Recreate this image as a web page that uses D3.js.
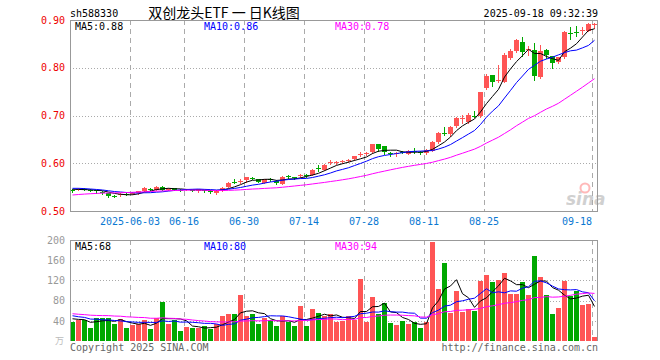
<!DOCTYPE html>
<html lang="zh">
<head>
<meta charset="utf-8">
<title>sh588330 日K线图</title>
<script src="https://d3js.org/d3.v7.min.js"></script>
<style>
body { margin: 0; background: #fff; }
svg text { font-family: "DejaVu Sans Mono", monospace; font-size: 10px; }
.grid-v { stroke: #aaa; stroke-dasharray: 5,4; shape-rendering: crispEdges; }
.grid-h { stroke: #aaa; stroke-dasharray: 1,2; shape-rendering: crispEdges; }
.frame { stroke: #999; fill: none; shape-rendering: crispEdges; }
.ma { fill: none; stroke-width: 1px; }
</style>
</head>
<body>
<svg width="660" height="360"></svg>
<script>
// trading days shown on the chart
var dates = [
  "2025-05-19","2025-05-20","2025-05-21","2025-05-22","2025-05-23","2025-05-26","2025-05-27","2025-05-28","2025-05-29","2025-05-30",
  "2025-06-03","2025-06-04","2025-06-05","2025-06-06","2025-06-09","2025-06-10","2025-06-11","2025-06-12","2025-06-13","2025-06-16",
  "2025-06-17","2025-06-18","2025-06-19","2025-06-20","2025-06-23","2025-06-24","2025-06-25","2025-06-26","2025-06-27","2025-06-30",
  "2025-07-01","2025-07-02","2025-07-03","2025-07-04","2025-07-07","2025-07-08","2025-07-09","2025-07-10","2025-07-11","2025-07-14",
  "2025-07-15","2025-07-16","2025-07-17","2025-07-18","2025-07-21","2025-07-22","2025-07-23","2025-07-24","2025-07-25","2025-07-28",
  "2025-07-29","2025-07-30","2025-07-31","2025-08-01","2025-08-04","2025-08-05","2025-08-06","2025-08-07","2025-08-08","2025-08-11",
  "2025-08-12","2025-08-13","2025-08-14","2025-08-15","2025-08-18","2025-08-19","2025-08-20","2025-08-21","2025-08-22","2025-08-25",
  "2025-08-26","2025-08-27","2025-08-28","2025-08-29","2025-09-01","2025-09-02","2025-09-03","2025-09-04","2025-09-05","2025-09-08",
  "2025-09-09","2025-09-10","2025-09-11","2025-09-12","2025-09-15","2025-09-16","2025-09-17","2025-09-18"
];

var open = [
  0.5435,0.5455,0.5465,0.545,0.543,0.540,0.537,0.5318,0.534,0.5352,
  0.5365,0.537,0.5426,0.5462,0.5454,0.551,0.546,0.5475,0.5445,0.5448,
  0.5432,0.5412,0.5432,0.5412,0.537,0.5426,0.551,0.5614,0.5628,0.5635,
  0.5684,0.5677,0.5593,0.567,0.5635,0.5565,0.573,0.5705,0.5735,0.5745,
  0.5761,0.5907,0.5866,0.6012,0.6012,0.6035,0.6055,0.6082,0.618,0.620,
  0.6236,0.6403,0.6361,0.6222,0.6205,0.6236,0.6201,0.625,0.6236,0.6215,
  0.6264,0.6445,0.664,0.6599,0.6773,0.694,0.6864,0.699,0.6983,0.7562,
  0.7841,0.773,0.7716,0.8204,0.8358,0.8539,0.8372,0.8379,0.7806,0.8379,
  0.8239,0.8121,0.8218,0.8727,0.8741,0.8786,0.8777,0.891
];
var high = [
  0.546,0.5485,0.548,0.546,0.544,0.541,0.538,0.533,0.537,0.537,
  0.539,0.5418,0.550,0.548,0.553,0.552,0.549,0.549,0.546,0.547,
  0.545,0.546,0.545,0.543,0.544,0.5495,0.560,0.5677,0.567,0.5715,
  0.571,0.568,0.568,0.569,0.564,0.5725,0.575,0.572,0.577,0.5765,
  0.588,0.597,0.598,0.6068,0.604,0.606,0.609,0.616,0.623,0.623,
  0.641,0.641,0.637,0.624,0.623,0.626,0.627,0.6313,0.626,0.630,
  0.646,0.665,0.6766,0.677,0.696,0.7017,0.705,0.7087,0.750,0.7869,
  0.785,0.8065,0.830,0.840,0.860,0.865,0.8449,0.8518,0.8483,0.839,
  0.825,0.823,0.8777,0.8846,0.8874,0.8846,0.893,0.893
];
var low = [
  0.540,0.543,0.543,0.541,0.538,0.536,0.530,0.5285,0.532,0.533,
  0.535,0.536,0.542,0.543,0.544,0.543,0.544,0.543,0.542,0.543,
  0.541,0.540,0.540,0.538,0.536,0.541,0.550,0.558,0.559,0.560,
  0.566,0.561,0.558,0.563,0.557,0.556,0.570,0.568,0.572,0.572,
  0.575,0.5845,0.5855,0.599,0.599,0.601,0.603,0.607,0.615,0.617,
  0.6225,0.6264,0.6194,0.6152,0.6152,0.621,0.619,0.621,0.620,0.620,
  0.625,0.643,0.6585,0.658,0.676,0.6843,0.685,0.696,0.697,0.755,
  0.7611,0.7702,0.770,0.818,0.834,0.8255,0.826,0.7743,0.7785,0.8204,
  0.7995,0.810,0.820,0.8609,0.8658,0.8707,0.877,0.8832
];
var close = [
  0.5428,0.5462,0.5448,0.5435,0.540,0.538,0.5315,0.531,0.535,0.5345,
  0.538,0.5412,0.549,0.5454,0.551,0.5454,0.547,0.544,0.544,0.5455,
  0.5426,0.5454,0.5426,0.5405,0.5433,0.549,0.5593,0.5607,0.5635,0.5705,
  0.5677,0.5621,0.5677,0.5645,0.5585,0.5719,0.572,0.5698,0.5745,0.5738,
  0.5866,0.590,0.597,0.6019,0.6019,0.6042,0.6063,0.6152,0.619,0.621,
  0.6403,0.6305,0.6236,0.6215,0.6212,0.6229,0.6257,0.6243,0.6229,0.628,
  0.6445,0.6634,0.6634,0.6752,0.6948,0.6948,0.7003,0.6983,0.7492,0.782,
  0.7702,0.7737,0.8274,0.8344,0.8588,0.8323,0.840,0.7841,0.8344,0.8274,
  0.8093,0.8218,0.8749,0.872,0.8734,0.8793,0.8916,0.8916
];
var volume = [
  37,42,41,25,46,46,45,33,43,25,
  31,34,42,23,46,77,33,42,20,28,
  25,26,29,24,33,49,53,53,91,49,
  53,33,45,41,29,49,37,29,69,29,
  63,55,49,53,38,40,50,42,122,38,
  87,53,75,35,31,39,33,37,25,37,
  196,103,154,55,99,57,63,59,119,130,
  117,121,134,93,93,117,91,168,126,91,
  53,65,119,89,99,72,74,8
];

// sessions before 05-19 (off screen), only used so the moving averages start where the picture shows them
var priorClose = [
  0.515,0.518,0.520,0.522,0.519,0.521,0.524,0.526,0.523,0.525,
  0.527,0.529,0.528,0.530,0.532,0.531,0.533,0.535,0.534,0.538,
  0.546,0.551,0.552,0.549,0.549,0.548,0.547,0.545,0.5448
];
var priorVolume = [
  72,65,58,61,54,49,57,52,60,48,
  55,50,63,47,53,58,51,56,44,67,
  62,54,58,49,57,48,44,51,40
];

var priceTicks = [0.5, 0.6, 0.7, 0.8, 0.9];
var volumeTicks = [40, 80, 120, 160, 200];
var gridDates = ["2025-06-03","2025-06-16","2025-06-30","2025-07-14","2025-07-28","2025-08-11","2025-08-25","2025-09-18"];
var gridLabels = ["2025-06-03","06-16","06-30","07-14","07-28","08-11","08-25","09-18"];
var maPeriods = [5, 10, 30];
var maColors = ["#000", "#00f", "#f0f"];

var RED = "#ff5555", GREEN = "#00a800";

var svg = d3.select("svg");
var left = 70, right = 598;
var pTop = 20, pBottom = 211, vTop = 240, vBottom = 341;

var x = d3.scaleBand().domain(dates).range([left, right]);
var yP = d3.scaleLinear().domain([0.5, 0.9]).range([pBottom, pTop]);
var yV = d3.scaleLinear().domain([0, 200]).range([vBottom, vTop]);
var bw = x.bandwidth() - 1;
function cx(i) { return x(dates[i]) + bw / 2; }
function col(i) { return close[i] >= open[i] ? RED : GREEN; }

function movingAvg(prior, vals, n) {
  var all = prior.concat(vals), off = prior.length;
  return vals.map(function(v, i) {
    return d3.mean(all.slice(off + i - n + 1, off + i + 1));
  });
}

// header
svg.append("text").attr("x", left).attr("y", 17).text("sh588330");
svg.append("text").attr("x", 224).attr("y", 18).attr("text-anchor", "middle")
  .style("font-family", "'Noto Sans CJK SC', sans-serif").style("font-size", "14px")
  .text("双创龙头ETF 一 日K线图");
svg.append("text").attr("x", right).attr("y", 17).attr("text-anchor", "end").text("2025-09-18 09:32:39");

// watermark
var wm = svg.append("g").attr("opacity", 0.45);
wm.append("text").attr("x", 566).attr("y", 205).style("font-family", "'DejaVu Sans', sans-serif")
  .style("font-size", "17px").style("font-weight", "bold").style("font-style", "italic").attr("fill", "#999").text("sina");
wm.append("circle").attr("cx", 585).attr("cy", 188).attr("r", 4.5).attr("fill", "none").attr("stroke", "#f66").attr("stroke-width", 2);

// grids
[[pTop, pBottom], [vTop, vBottom]].forEach(function(r) {
  svg.append("g").selectAll("line").data(gridDates).enter().append("line")
    .attr("class", "grid-v")
    .attr("x1", function(d) { return x(d) + 0.5; }).attr("x2", function(d) { return x(d) + 0.5; })
    .attr("y1", r[0]).attr("y2", r[1]);
});
svg.append("g").selectAll("line").data(priceTicks.slice(1, 4)).enter().append("line")
  .attr("class", "grid-h").attr("x1", left).attr("x2", right)
  .attr("y1", function(d) { return Math.round(yP(d)) + 0.5; }).attr("y2", function(d) { return Math.round(yP(d)) + 0.5; });
svg.append("g").selectAll("line").data(volumeTicks.slice(0, 4)).enter().append("line")
  .attr("class", "grid-h").attr("x1", left).attr("x2", right)
  .attr("y1", function(d) { return Math.round(yV(d)) + 0.5; }).attr("y2", function(d) { return Math.round(yV(d)) + 0.5; });

// axes labels
var pAxis = svg.append("g").attr("transform", "translate(" + left + ",0)")
  .call(d3.axisLeft(yP).tickValues(priceTicks).tickFormat(d3.format(".2f")).tickSize(0).tickPadding(5));
pAxis.select(".domain").remove();
pAxis.selectAll("text").attr("fill", "#e00").style("font-family", "'DejaVu Sans Mono', monospace").style("font-size", "10px");

var vAxis = svg.append("g").attr("transform", "translate(" + left + ",0)")
  .call(d3.axisLeft(yV).tickValues(volumeTicks).tickSize(0).tickPadding(5));
vAxis.select(".domain").remove();
vAxis.selectAll("text").attr("fill", "#999").style("font-family", "'DejaVu Sans Mono', monospace").style("font-size", "10px");
svg.append("text").attr("x", 64).attr("y", 344).attr("text-anchor", "end").attr("fill", "#bbb")
  .style("font-family", "'Noto Sans CJK SC', sans-serif").style("font-size", "9px").text("万");

svg.append("g").selectAll("text").data(gridDates).enter().append("text")
  .attr("x", function(d) { return x(d); })
  .attr("y", 225)
  .attr("text-anchor", function(d, i) { return i == gridDates.length - 1 ? "end" : "middle"; })
  .attr("fill", "#0a78d2")
  .text(function(d, i) { return gridLabels[i]; });

// candles
var candles = svg.append("g");
candles.selectAll("line").data(dates).enter().append("line")
  .attr("x1", function(d, i) { return Math.floor(cx(i)) + 0.5; })
  .attr("x2", function(d, i) { return Math.floor(cx(i)) + 0.5; })
  .attr("y1", function(d, i) { return Math.round(yP(high[i])); })
  .attr("y2", function(d, i) { return Math.round(yP(low[i])) + 1; })
  .attr("stroke", function(d, i) { return col(i); })
  .style("shape-rendering", "crispEdges");
candles.selectAll("rect").data(dates).enter().append("rect")
  .attr("x", function(d) { return x(d); })
  .attr("width", bw)
  .attr("y", function(d, i) { return Math.round(yP(Math.max(open[i], close[i]))); })
  .attr("height", function(d, i) { return Math.max(1, Math.round(Math.abs(yP(open[i]) - yP(close[i])))); })
  .attr("fill", function(d, i) { return col(i); })
  .style("shape-rendering", "crispEdges");

// volume bars
svg.append("g").selectAll("rect").data(volume).enter().append("rect")
  .attr("x", function(d, i) { return x(dates[i]); })
  .attr("width", bw)
  .attr("y", function(d) { return Math.round(yV(d)); })
  .attr("height", function(d) { return vBottom - Math.round(yV(d)); })
  .attr("fill", function(d, i) { return col(i); })
  .style("shape-rendering", "crispEdges");

// moving averages
var lineP = d3.line().x(function(d, i) { return cx(i); }).y(function(d) { return yP(d); });
var lineV = d3.line().x(function(d, i) { return cx(i); }).y(function(d) { return yV(d); });
var legendX = [75, 204, 335];

maPeriods.forEach(function(n, k) {
  var mp = movingAvg(priorClose, close, n);
  var mv = movingAvg(priorVolume, volume, n);
  svg.append("path").attr("class", "ma").attr("stroke", maColors[k]).attr("d", lineP(mp));
  svg.append("path").attr("class", "ma").attr("stroke", maColors[k]).attr("d", lineV(mv));
  svg.append("text").attr("x", legendX[k]).attr("y", 30).attr("fill", maColors[k])
    .text("MA" + n + ":" + d3.format(".2f")(mp[mp.length - 1]));
  svg.append("text").attr("x", legendX[k]).attr("y", 250).attr("fill", maColors[k])
    .text("MA" + n + ":" + Math.round(mv[mv.length - 1]));
});

// frames
svg.append("rect").attr("class", "frame").attr("x", left + 0.5).attr("y", pTop + 0.5)
  .attr("width", right - left - 1).attr("height", pBottom - pTop);
svg.append("path").attr("class", "frame")
  .attr("d", "M" + (left + 0.5) + "," + vBottom + "V" + (vTop + 0.5) + "H" + (right - 0.5) + "V" + vBottom);

// footer
svg.append("text").attr("x", left).attr("y", 351).attr("fill", "#666").text("Copyright 2025 SINA.COM");
svg.append("text").attr("x", right).attr("y", 351).attr("text-anchor", "end").attr("fill", "#666").text("http://finance.sina.com.cn");
</script>
</body>
</html>
